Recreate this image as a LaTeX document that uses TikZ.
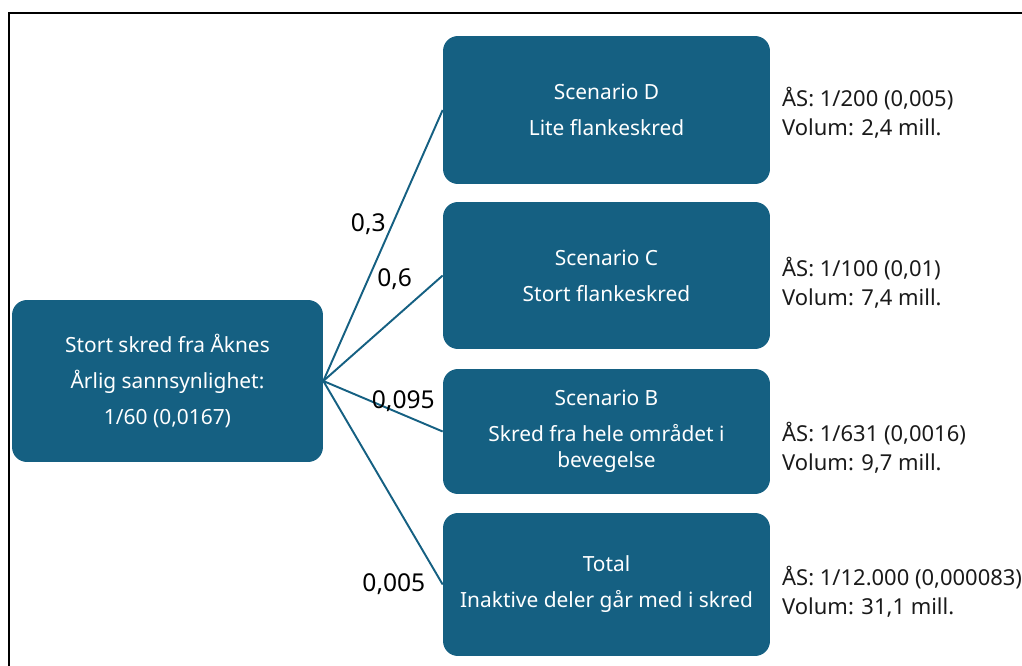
\documentclass[tikz,border=0pt]{standalone}
\usepackage{fontspec}
\setmainfont{Noto Sans}
\usepackage{tikz}
\usetikzlibrary{positioning}
\definecolor{skredblue}{HTML}{156082}
\definecolor{infogray}{HTML}{1A1A1A}

\begin{document}
\begin{tikzpicture}[x=0.02cm, y=-0.02cm,
  every node/.style={font=\fontsize{11.9}{14.8}\selectfont},
  boks/.style={rectangle, rounded corners=8.5pt, fill=skredblue, text=white,
               align=center, inner sep=0pt, minimum width=6.54cm},
  info/.style={anchor=west, align=left, text=infogray,
               font=\fontsize{12.5}{16.5}\selectfont},
  gren/.style={skredblue, line width=1.1pt},
  prob/.style={text=black, font=\fontsize{14}{16}\selectfont}]

% extra space between paragraphs inside a box
\def\pgap{5.7pt}

\useasboundingbox (0,0) rectangle (1022,666);

% outer frame (right and bottom edge fall outside)
\draw[line width=1.2pt] (9,666) -- (9,13) -- (1022,13);

% start box
\node[boks, minimum width=6.22cm, minimum height=3.24cm] (start) at (167.5,381)
  {Stort skred fra Åknes\\[\pgap] Årlig sannsynlighet:\\[\pgap] 1/60 (0,0167)};

% scenario boxes
\node[boks, minimum height=2.96cm] (scenD) at (606.5,110)
  {Scenario D\\[\pgap] Lite flankeskred};
\node[boks, minimum height=2.94cm] (scenC) at (606.5,275.5)
  {Scenario C\\[\pgap] Stort flankeskred};
\node[boks, minimum height=2.5cm] (scenB) at (606.5,431.5)
  {Scenario B\\[\pgap] Skred fra hele området i\\ bevegelse};
\node[boks, minimum height=2.86cm] (total) at (606.5,584.5)
  {Total\\[\pgap] Inaktive deler går med i skred};

% branches with conditional probabilities
\draw[gren] (start.east) -- (scenD.west) node[prob, pos=0.58, left] {0,3};
\draw[gren] (start.east) -- (scenC.west) node[prob, pos=0.8, anchor=south east] {0,6};
\draw[gren] (start.east) -- (scenB.west) node[prob, pos=0.67, above, inner sep=1pt] {0,095};
\draw[gren] (start.east) -- (total.west) node[prob, pos=1, left=6pt] {0,005};

% annual probability and volume, right of each box
\node[info] (infoD) at (776,112.5) {ÅS: 1/200 (0,005)\\ Volum: 2,4 mill.};
\node[info] (infoC) at (776,282.5) {ÅS: 1/100 (0,01)\\ Volum: 7,4 mill.};
\node[info] (infoB) at (776,448) {ÅS: 1/631 (0,0016)\\ Volum: 9,7 mill.};
\node[info] (infoT) at (776,592) {ÅS: 1/12.000 (0,000083)\\ Volum: 31,1 mill.};

\end{tikzpicture}
\end{document}
